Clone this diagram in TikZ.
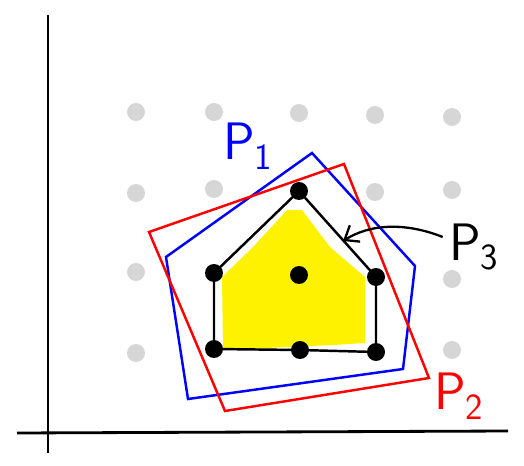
\documentclass[tikz,border=0pt]{standalone}
\usepackage{fontspec}
\usetikzlibrary{arrows.meta}

\begin{document}
\begin{tikzpicture}[
        x=0.02cm, y=-0.02cm,
        axis/.style={line width=1.6pt},
        griddot/.style={circle, fill=black!16, inner sep=0pt, minimum size=0.36cm},
        vert/.style={circle, fill=black, inner sep=0pt, minimum size=0.36cm},
        hull/.style={line width=1.4pt, line join=miter},
        lbl/.style={font=\sffamily\fontsize{30}{30}\selectfont, inner sep=0pt},
        arrow/.style={-{Straight Barb[length=7pt,width=11pt]}, line width=1.3pt}
    ]
        \useasboundingbox (0,0) rectangle (524,466);

        % lattice points
        \foreach \gx/\gy [count=\i] in {136/112,214/112,299/113,375/115,452/117,
                                        136/193,214/189,375/192,452/190,
                                        136/272,452/279,136/353,452/350}
            \node[griddot] (g\i) at (\gx,\gy) {};

        % axes
        \coordinate (ytop) at (48,15);
        \coordinate (ybot) at (48,453);
        \coordinate (xl) at (17,433);
        \coordinate (xr) at (508,431);
        \draw[axis] (ytop) -- (ybot);
        \draw[axis] (xl) -- (xr);

        % shaded interior
        \fill[yellow] (222,277) -- (253,247) -- (287,210) -- (302,210) -- (330,247)
            -- (365,277) -- (365,343) -- (333,345) -- (223,350) -- cycle;

        % P1 and P2
        \draw[hull, blue] (312,153) -- (415,266) -- (403,369) -- (188,399) -- (166,257) -- cycle;
        \draw[hull, red] (344,164) -- (429,378) -- (225,411) -- (149,232) -- cycle;

        % P3
        \node[vert] (top) at (299,191) {};
        \node[vert] (lft) at (214,273) {};
        \node[vert] (mid) at (299,275) {};
        \node[vert] (rgt) at (376,277) {};
        \node[vert] (bl) at (214,349) {};
        \node[vert] (bm) at (300,350) {};
        \node[vert] (br) at (376,352) {};
        \draw[hull] (top.center) -- (rgt.center) -- (br.center) -- (bm.center)
            -- (bl.center) -- (lft.center) -- cycle;

        % labels
        \node[lbl, blue] (p1) at (248,146) {P\textsubscript{1}};
        \node[lbl, red] (p2) at (459,396) {P\textsubscript{2}};
        \node[lbl] (p3) at (474,247) {P\textsubscript{3}};

        \coordinate (tip) at (343,241);
        \draw[arrow] (p3.west) ++(-6,-10) .. controls (405,222) and (370,224) .. (tip);
\end{tikzpicture}
\end{document}
